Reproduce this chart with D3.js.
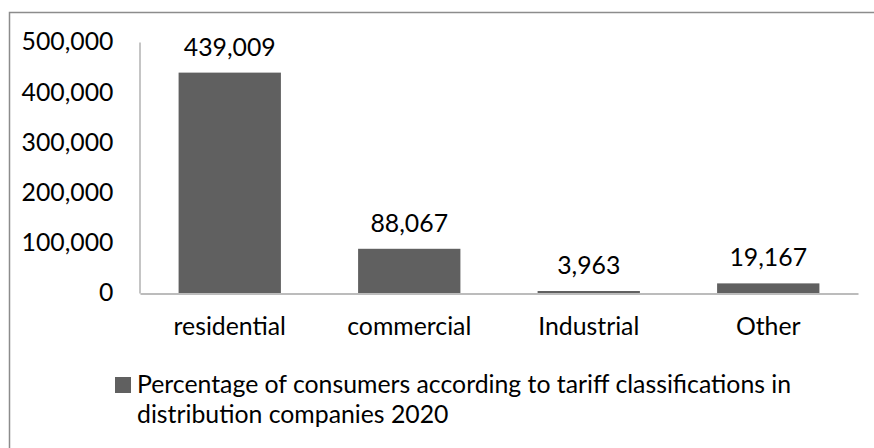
<!DOCTYPE html>
<html>
<head>
<meta charset="utf-8">
<script src="https://cdn.jsdelivr.net/npm/d3@7"></script>
<style>
  html, body { margin: 0; padding: 0; background: #fff; }
  svg { display: block; }
  text { font-family: Lato, "Noto Sans", sans-serif; fill: #000; }
</style>
</head>
<body>
<svg id="chart" width="874" height="448"></svg>
<script>
// Consumers by tariff classification, distribution companies 2020
const categories = ["residential", "commercial", "Industrial", "Other"];
const values = [439009, 88067, 3963, 19167];
const yTicks = [0, 100000, 200000, 300000, 400000, 500000];
const legendLines = [
  "Percentage of consumers according to tariff classifications in",
  "distribution companies 2020"
];

const svg = d3.select("#chart");
const fmt = d3.format(",");
const fontSize = 24.8;

// outer chart frame (continues past the visible area on the right and bottom)
svg.append("rect")
  .attr("x", 9.5).attr("y", 12.5)
  .attr("width", 1000).attr("height", 1000)
  .attr("fill", "none").attr("stroke", "#8c8c8c").attr("stroke-width", 1.5);

const plot = { left: 140, right: 858, top: 42, bottom: 293 };

const x = d3.scaleBand()
  .domain(categories)
  .range([plot.left, plot.right])
  .paddingInner(0.43)
  .paddingOuter(0.215);

const y = d3.scaleLinear()
  .domain([0, 500000])
  .range([plot.bottom, plot.top]);

// bars
svg.append("g").selectAll("rect")
  .data(values)
  .join("rect")
  .attr("x", (d, i) => x(categories[i]))
  .attr("y", d => y(d))
  .attr("width", x.bandwidth())
  .attr("height", d => y(0) - y(d))
  .attr("fill", "#606060");

// y axis: line plus labels, no tick marks
const yAxis = d3.axisLeft(y)
  .tickValues(yTicks)
  .tickFormat(fmt)
  .tickSize(0)
  .tickPadding(26);
const gy = svg.append("g")
  .attr("transform", `translate(${plot.left - 0.5},0)`)
  .call(yAxis);
gy.select(".domain").attr("stroke", "#a6a6a6").attr("stroke-width", 1.3);
gy.selectAll("text")
  .style("font-family", "Lato, 'Noto Sans', sans-serif")
  .attr("font-size", fontSize).attr("fill", "#000");

// x axis baseline and category labels
const xAxis = d3.axisBottom(x).tickSize(0).tickPadding(24);
const gx = svg.append("g")
  .attr("transform", `translate(0,${plot.bottom + 0.5})`)
  .call(xAxis);
gx.select(".domain").attr("stroke", "#a6a6a6").attr("stroke-width", 1.3);
gx.selectAll("text")
  .style("font-family", "Lato, 'Noto Sans', sans-serif")
  .attr("font-size", fontSize).attr("fill", "#000");

// value labels above bars
svg.append("g").selectAll("text")
  .data(values)
  .join("text")
  .attr("x", (d, i) => x(categories[i]) + x.bandwidth() / 2)
  .attr("y", d => y(d) - 17)
  .attr("text-anchor", "middle")
  .attr("font-size", fontSize)
  .text(d => fmt(d));

// legend
const legend = svg.append("g");
legend.append("rect")
  .attr("x", 115).attr("y", 377)
  .attr("width", 16).attr("height", 16)
  .attr("fill", "#606060");
legend.selectAll("text.leg")
  .data(legendLines)
  .join("text")
  .attr("class", "leg")
  .attr("x", 137)
  .attr("y", (d, i) => 393 + i * 29.5)
  .attr("font-size", fontSize)
  .text(d => d);
</script>
</body>
</html>
